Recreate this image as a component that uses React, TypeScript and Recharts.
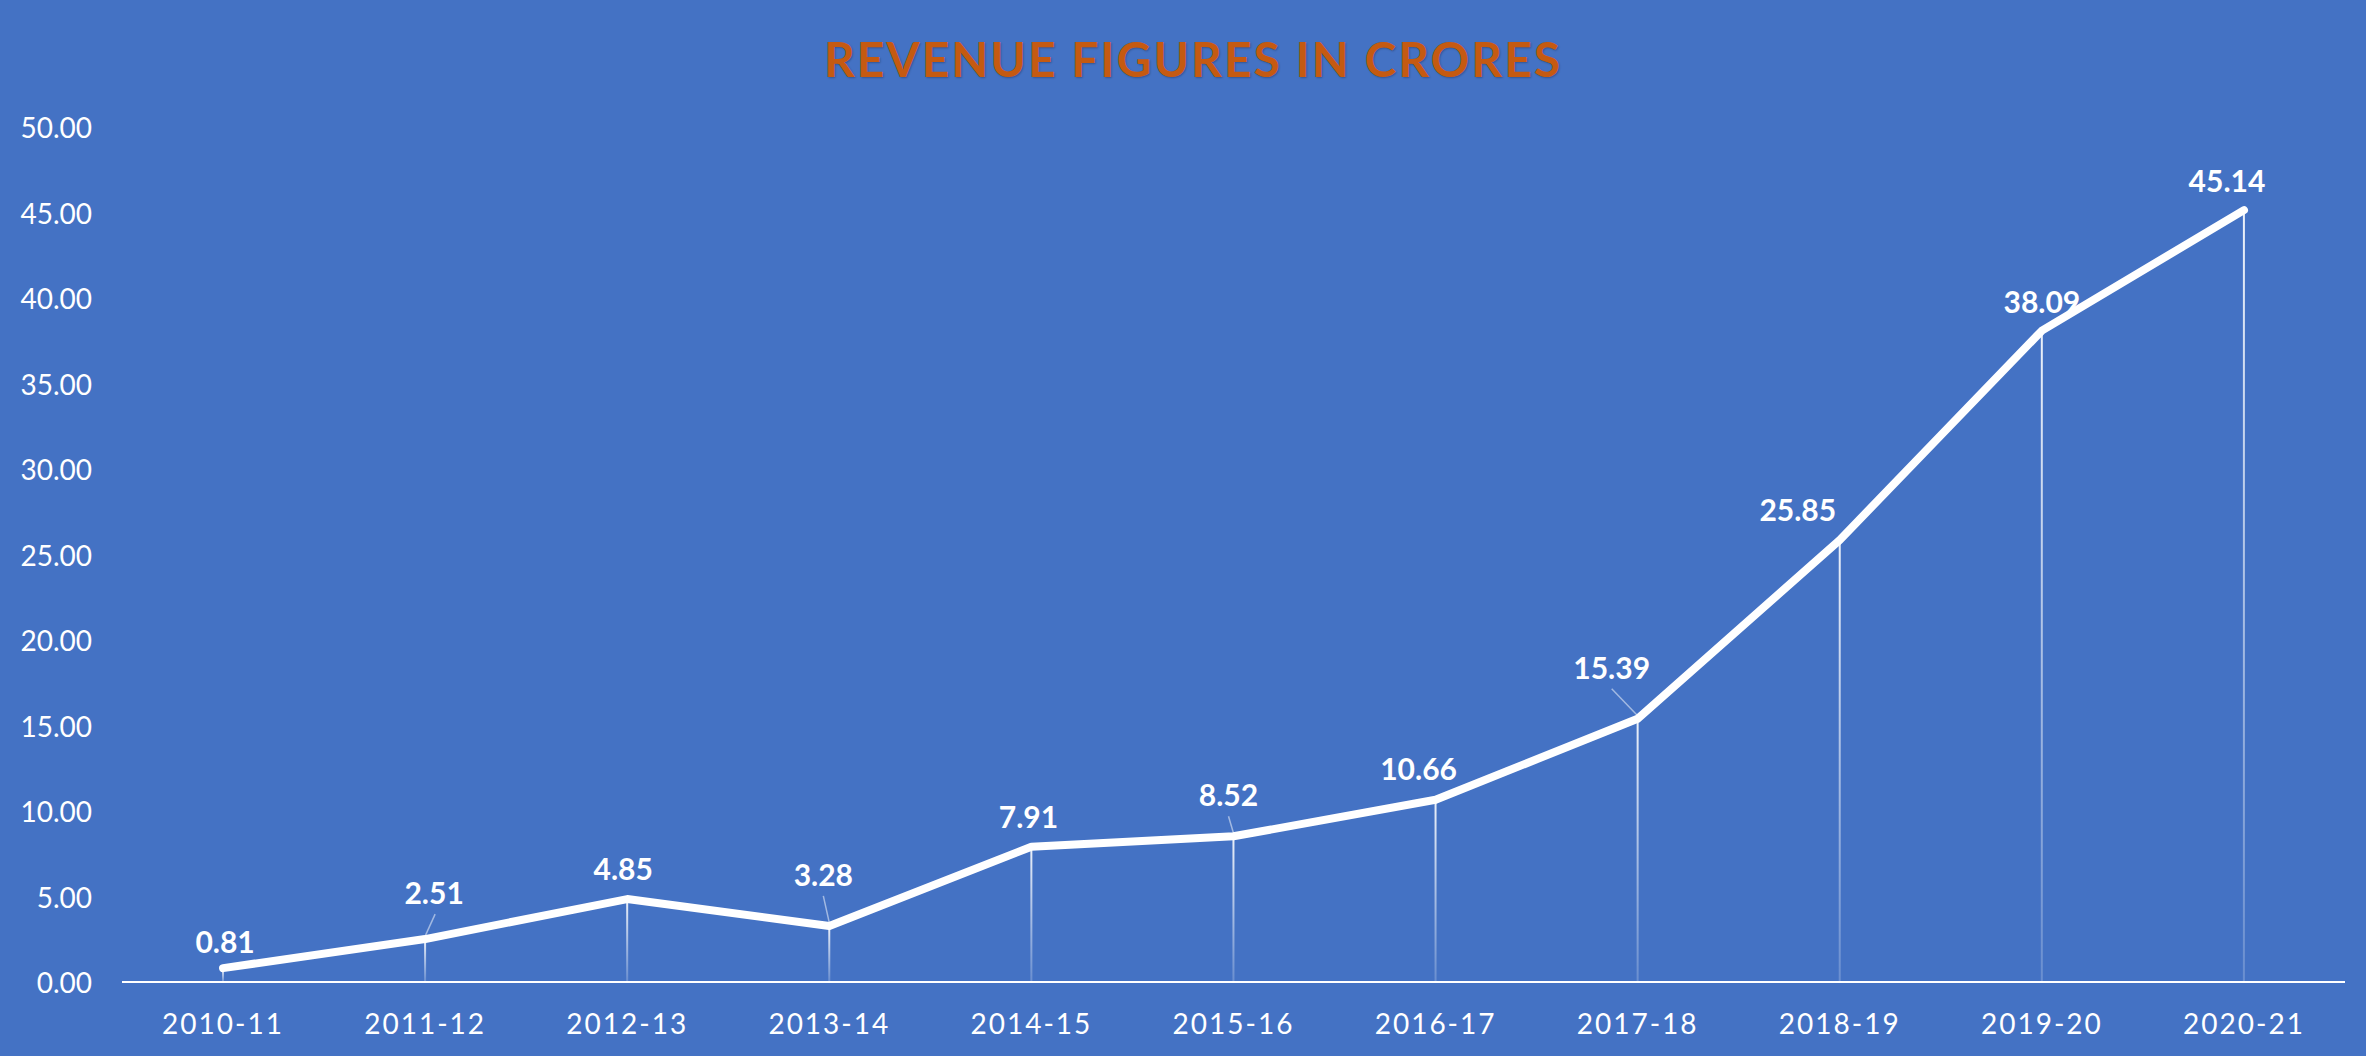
import React from "react";
import { ComposedChart, Line, Bar, XAxis, YAxis, LabelList } from "recharts";

const years = [
  "2010-11", "2011-12", "2012-13", "2013-14", "2014-15", "2015-16",
  "2016-17", "2017-18", "2018-19", "2019-20", "2020-21",
];
const revenue = [0.81, 2.51, 4.85, 3.28, 7.91, 8.52, 10.66, 15.39, 25.85, 38.09, 45.14];
const yTicks = [0, 5, 10, 15, 20, 25, 30, 35, 40, 45, 50];

// label nudges (dx, dy) relative to the point, and whether a leader line is drawn
const labelNudge: [number, number, boolean][] = [
  [2, -27, false],
  [9, -47, true],
  [-4, -31, false],
  [-6, -52, true],
  [-3, -31, false],
  [-5, -42, true],
  [-17, -32, false],
  [-26, -52, true],
  [-42, -31, false],
  [0, -30, false],
  [-17, -30, false],
];

const data = years.map((name, i) => ({ name, value: revenue[i], drop: revenue[i] }));

const FONT = "Lato, 'Open Sans', sans-serif";

const YTick = (props: any) => (
  <text
    x={92}
    y={props.y}
    textAnchor="end"
    dominantBaseline="central"
    fill="#ffffff"
    fontFamily={FONT}
    fontSize={28}
  >
    {Number(props.payload.value).toFixed(2)}
  </text>
);

const XTick = (props: any) => (
  <text
    x={props.x}
    y={props.y + 33}
    textAnchor="middle"
    dominantBaseline="central"
    fill="#ffffff"
    fontFamily={FONT}
    fontSize={28}
    letterSpacing={2}
  >
    {props.payload.value}
  </text>
);

const PointLabel = (props: any) => {
  const { x, y, value, index } = props;
  const [dx, dy, leader] = labelNudge[index] || [0, -28, false];
  const lx = x + dx;
  const ly = y + dy;
  return (
    <g>
      {leader && (
        <line
          x1={lx + (dx > 0 ? 1 : 0)}
          y1={ly + 22}
          x2={x}
          y2={y - 3}
          stroke="#ffffff"
          strokeOpacity={0.5}
          strokeWidth={1.5}
        />
      )}
      <text
        x={lx}
        y={ly}
        textAnchor="middle"
        dominantBaseline="central"
        fill="#ffffff"
        fontFamily={FONT}
        fontWeight={700}
        fontSize={30}
      >
        {Number(value).toFixed(2)}
      </text>
    </g>
  );
};

export default function App() {
  return (
    <div
      style={{
        position: "fixed",
        left: 0,
        top: 0,
        width: 2366,
        height: 1056,
        background: "#4472C4",
        overflow: "hidden",
      }}
    >
      <div
        style={{
          position: "absolute",
          top: 31,
          left: 10,
          width: 2366,
          textAlign: "center",
          color: "#C55A11",
          fontFamily: FONT,
          fontWeight: 700,
          fontSize: 48,
          letterSpacing: 2,
          lineHeight: "56px",
          textShadow: "1px 1px 2px rgba(0,0,0,0.25)",
        }}
      >
        REVENUE FIGURES IN CRORES
      </div>
      <ComposedChart
        width={2366}
        height={1056}
        data={data}
        margin={{ top: 127, right: 21, bottom: 0, left: 0 }}
      >
        <defs>
          <linearGradient id="dropGrad" x1="0" y1="0" x2="0" y2="1">
            <stop offset="0%" stopColor="#ffffff" stopOpacity={0.9} />
            <stop offset="100%" stopColor="#ffffff" stopOpacity={0.2} />
          </linearGradient>
        </defs>
        <XAxis
          dataKey="name"
          height={74}
          axisLine={{ stroke: "#ffffff", strokeWidth: 2 }}
          tickLine={false}
          tick={<XTick />}
          interval={0}
        />
        <YAxis
          width={122}
          domain={[0, 50]}
          ticks={yTicks}
          axisLine={false}
          tickLine={false}
          tick={<YTick />}
          interval={0}
        />
        <Bar dataKey="drop" barSize={2} fill="url(#dropGrad)" isAnimationActive={false} />
        <Line
          type="linear"
          dataKey="value"
          stroke="#ffffff"
          strokeWidth={8}
          strokeLinecap="round"
          strokeLinejoin="round"
          dot={false}
          activeDot={false}
          isAnimationActive={false}
        >
          <LabelList dataKey="value" content={<PointLabel />} />
        </Line>
      </ComposedChart>
    </div>
  );
}
